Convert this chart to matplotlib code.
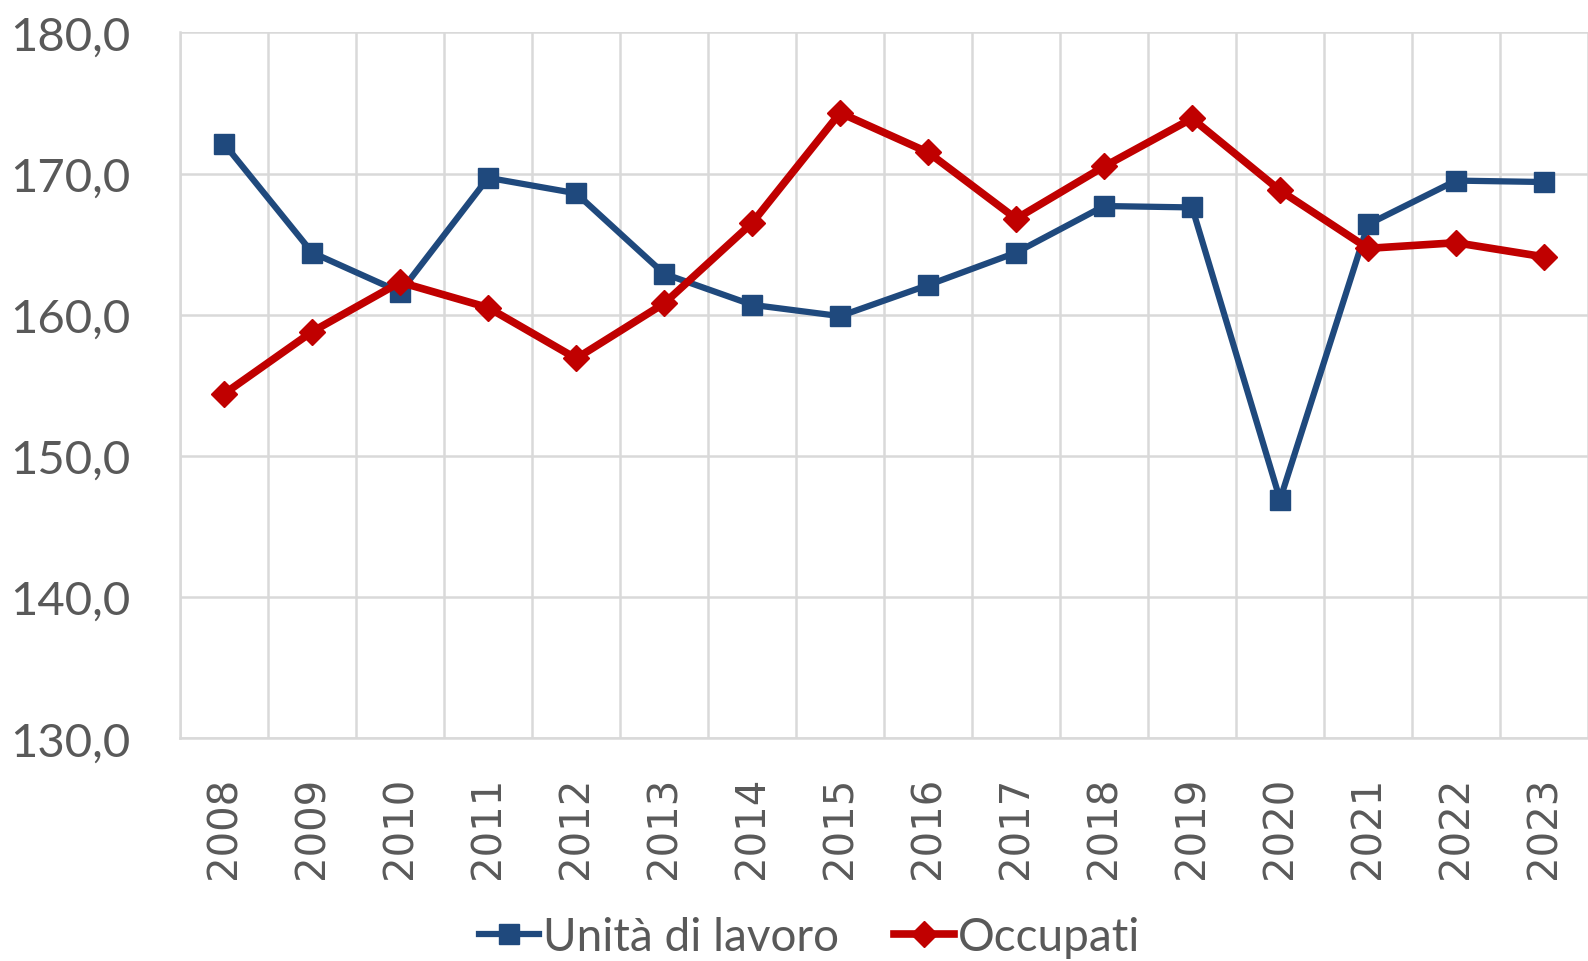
import numpy as np
import matplotlib.pyplot as plt
from matplotlib.ticker import FuncFormatter, MultipleLocator

anni = ['2008', '2009', '2010', '2011', '2012', '2013', '2014', '2015',
        '2016', '2017', '2018', '2019', '2020', '2021', '2022', '2023']
unita_lavoro = [172.1, 164.4, 161.6, 169.7, 168.6, 162.9, 160.7, 159.9,
                162.1, 164.4, 167.7, 167.6, 146.9, 166.4, 169.5, 169.4]
occupati = [154.4, 158.8, 162.3, 160.5, 156.9, 160.8, 166.5, 174.3,
            171.5, 166.8, 170.5, 173.9, 168.8, 164.7, 165.1, 164.1]

grigio = '#595959'
blu = '#1F497D'
rosso = '#C00000'

fig = plt.figure(figsize=(15.88, 9.62), dpi=100)
ax = fig.add_axes([0.1135, 0.2316, 0.8865, 0.7337])

x = np.arange(len(anni))
ax.plot(x, unita_lavoro, color=blu, lw=4.5, marker='s', ms=14,
        label='Unità di lavoro', solid_joinstyle='round')
ax.plot(x, occupati, color=rosso, lw=5.5, marker='D', ms=13,
        label='Occupati', solid_joinstyle='round')

ax.set_xlim(-0.5, len(anni) - 0.5)
ax.set_ylim(130, 180)
ax.yaxis.set_major_locator(MultipleLocator(10))
ax.yaxis.set_major_formatter(FuncFormatter(lambda v, p: f'{v:.1f}'.replace('.', ',')))
ax.set_xticks(x)
ax.set_xticklabels(anni, rotation=90, fontsize=29, color=grigio,
                   family='DejaVu Sans')
ax.set_xticks(np.arange(-0.5, len(anni), 1), minor=True)

for lab in ax.get_yticklabels():
    lab.set_fontsize(34)
    lab.set_color(grigio)
    lab.set_family('Lato')

ax.tick_params(axis='both', which='both', length=0)
ax.tick_params(axis='y', pad=36)
ax.tick_params(axis='x', pad=27)

ax.grid(axis='y', which='major', color='#D9D9D9', lw=1.8)
ax.grid(axis='x', which='minor', color='#D9D9D9', lw=1.8)
ax.set_axisbelow(True)
for s in ['top', 'right']:
    ax.spines[s].set_visible(False)
for s in ['left', 'bottom']:
    ax.spines[s].set_color('#D9D9D9')
    ax.spines[s].set_linewidth(1.8)

fig.legend(loc='center', bbox_to_anchor=(0.51, 0.025), ncol=2, frameon=False,
           prop={'family': 'Lato', 'size': 33}, labelcolor=grigio,
           handlelength=1.3, handletextpad=0.1, columnspacing=1.2,
           borderaxespad=0)

fig.savefig('out.png', dpi=100)
